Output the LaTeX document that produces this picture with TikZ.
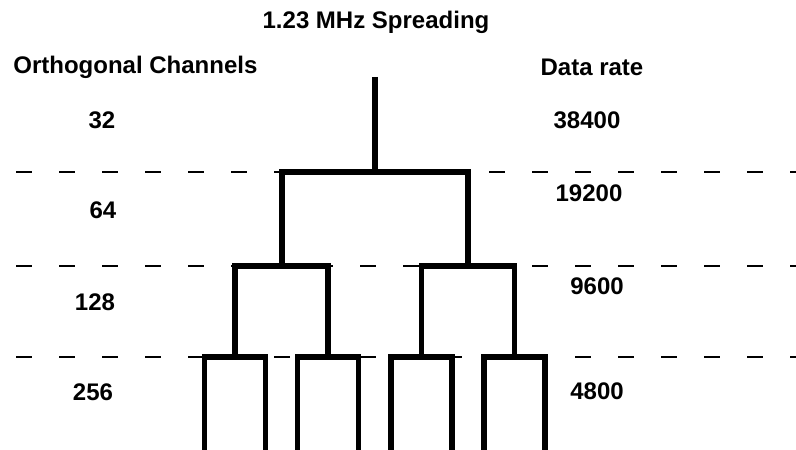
\documentclass[tikz,border=0pt]{standalone}
\usepackage{fontspec}
\setmainfont{Liberation Sans}
\usetikzlibrary{positioning}
\tikzset{
  branch/.style={line width=2.85pt,line join=miter,line cap=butt},
  levelline/.style={line width=1.2pt,dash pattern=on 8pt off 13.5pt},
  rowtext/.style={font=\bfseries\fontsize{12}{14}\selectfont,inner sep=0pt}
}

\begin{document}
\begin{tikzpicture}[x=0.5pt,y=-0.5pt]
  \useasboundingbox (0,0) rectangle (796,449);
  \clip (0,0) rectangle (796,449);

  % Headings
  \node[rowtext] (title) at (376,22) {1.23 MHz Spreading};
  \node[rowtext,anchor=west] (chanhead) at (13,67) {Orthogonal Channels};
  \node[rowtext] (ratehead) at (592,67) {Data rate};

  % Channels and rates per level
  \node[rowtext] (ch32)  at (102,120) {32};
  \node[rowtext] (ch64)  at (103,210) {64};
  \node[rowtext] (ch128) at (95,302)  {128};
  \node[rowtext] (ch256) at (93,392)  {256};
  \node[rowtext] (r38400) at (587,120) {38400};
  \node[rowtext] (r19200) at (589,193) {19200};
  \node[rowtext] (r9600)  at (597,286) {9600};
  \node[rowtext] (r4800)  at (597,391) {4800};

  % Level separators
  \foreach \ly/\nm in {172/sepa,266/sepb,357/sepc}{
    \coordinate (\nm-w) at (16,\ly);
    \coordinate (\nm-e) at (796,\ly);
    \draw[levelline] (\nm-w) -- (\nm-e);
  }

  % Code tree
  \coordinate (root) at (375,77);
  \coordinate (n0) at (375,172);
  \coordinate (n1) at (282,266);
  \coordinate (n2) at (468,266);
  \coordinate (n11) at (235,357);
  \coordinate (n12) at (328,357);
  \coordinate (n21) at (421.5,357);
  \coordinate (n22) at (514.5,357);
  \coordinate (n111) at (204.5,455);
  \coordinate (n112) at (265.5,455);
  \coordinate (n121) at (297.5,455);
  \coordinate (n122) at (358.5,455);
  \coordinate (n211) at (391,455);
  \coordinate (n212) at (452,455);
  \coordinate (n221) at (484,455);
  \coordinate (n222) at (545,455);

  \draw[branch] (root) -- (n0);
  \draw[branch] (n1) |- (n0) -| (n2);
  \foreach \p/\a/\b in {n1/n11/n12,n2/n21/n22,
                        n11/n111/n112,n12/n121/n122,
                        n21/n211/n212,n22/n221/n222}
    \draw[branch] (\a) |- (\p) -| (\b);
\end{tikzpicture}
\end{document}
